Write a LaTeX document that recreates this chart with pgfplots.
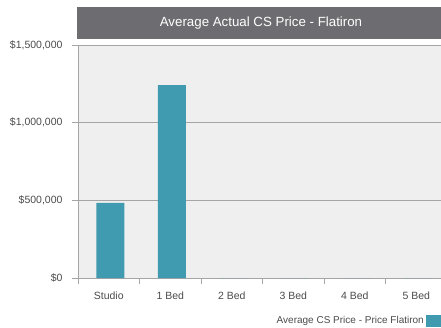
\documentclass[border=0pt]{standalone}
\usepackage{pgfplots}
\pgfplotsset{compat=1.18}
\usepackage{fontspec}
\setmainfont{Liberation Sans}
\definecolor{barc}{RGB}{64,154,176}
\definecolor{titlebg}{RGB}{109,108,112}
\definecolor{plotbg}{RGB}{239,239,239}
\definecolor{gridc}{RGB}{165,165,165}
\definecolor{txt}{RGB}{75,75,75}
\begin{document}
\begin{tikzpicture}
\useasboundingbox (0,0) rectangle (441bp,328bp);
\fill[titlebg] (77bp,289bp) rectangle (441bp,321bp);
\node[text=white, font=\fontsize{13.3bp}{15bp}\selectfont] at (261bp,305bp) {Average Actual CS Price - Flatiron};
\begin{axis}[
 at={(78bp,50bp)}, anchor=south west,
 scale only axis, width=363bp, height=233bp,
 xmin=-0.5, xmax=5.4, ymin=0, ymax=1500000,
 axis background/.style={fill=plotbg},
 axis line style={draw=none},
 scaled y ticks=false,
 ytick={0,500000,1000000,1500000},
 yticklabels={{\$0},{\$500,000},{\$1,000,000},{\$1,500,000}},
 yticklabel style={xshift=-6bp},
 ymajorgrids, grid style={gridc, line width=0.8pt},
 xtick={-0.5,0.5,1.5,2.5,3.5,4.5},
 xticklabels={Studio,1 Bed,2 Bed,3 Bed,4 Bed,5 Bed},
 xticklabel style={xshift=30.75bp, yshift=-4bp},
 tick align=outside, major tick length=6bp, tick pos=left,
 major tick style={gridc, line width=0.8pt},
 ticklabel style={font=\fontsize{10.5bp}{12bp}\selectfont, text=txt},
 ybar, bar width=28bp, bar shift=1.5bp,
 legend style={at={(rel axis cs:1,-0.1845)}, anchor=east, draw=none, fill=none,
   font=\fontsize{10bp}{12bp}\selectfont, text=txt, inner sep=0pt},
 legend plot pos=right,
 clip=false,
]
\addplot[fill=barc, draw=none, legend image code/.code={\fill[barc] (7bp,-6bp) rectangle (22bp,6bp);}]
 coordinates {(0,483000) (1,1242000) (2,0) (3,0) (4,0) (5,0)};
\addlegendentry{Average CS Price - Price Flatiron}
\draw[gridc, line width=0.8pt] (rel axis cs:0,0) -- (rel axis cs:0,1);
\end{axis}
\end{tikzpicture}
\end{document}
